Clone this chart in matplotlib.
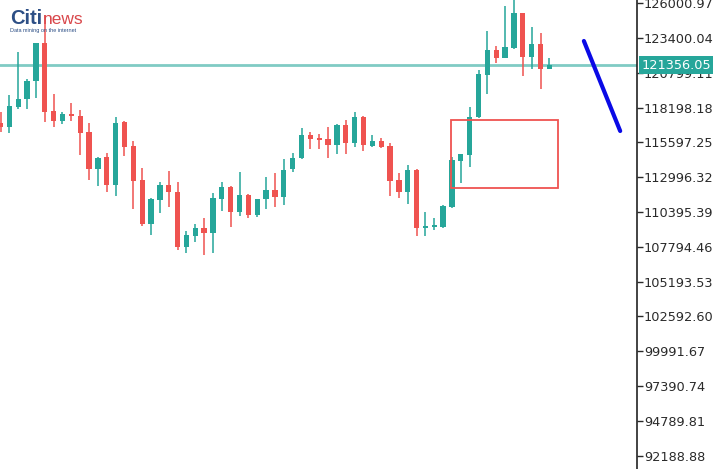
import matplotlib
matplotlib.use("Agg")
import matplotlib.pyplot as plt
from matplotlib.patches import Rectangle

# candle data (open, high, low, close)
opens = [117047, 116748, 118243, 118841, 120186, 123025, 117944, 117197, 117720, 117570,
         116375, 113611, 114507, 112415, 117122, 115329, 112788, 109501, 111294, 112415,
         111892, 107782, 108604, 109202, 108829, 111369, 112265, 110397, 111668, 110173,
         111369, 112041, 111518, 113611, 114432, 116151, 115927, 115852, 115404, 116898,
         115553, 117496, 115329, 115703, 115329, 112788, 111892, 113536, 109202, 109277,
         109277, 110771, 114208, 114657, 117496, 120634, 122502, 121904, 122651, 125267,
         121979, 122950, 121082]
highs = [117869, 119140, 122352, 120335, 123025, 125117, 119214, 117869, 118542, 118019,
         117047, 114507, 114806, 117496, 117197, 115703, 113685, 111444, 112639, 113461,
         112639, 108978, 109501, 109949, 111817, 112639, 112340, 113386, 111742, 111369,
         113013, 113312, 114358, 114806, 116674, 116375, 116226, 116748, 116973, 117272,
         117869, 117570, 116151, 115927, 115553, 113312, 113909, 113611, 110397, 109949,
         110920, 114507, 114731, 118243, 121008, 123922, 122801, 125790, 126400, 125267,
         124220, 123772, 121904]
lows = [116375, 116300, 118094, 118094, 118916, 117122, 116748, 116973, 117197, 114657,
        112788, 112340, 111892, 111593, 114582, 110622, 109352, 108679, 110323, 110771,
        107558, 107334, 108156, 107184, 107334, 110472, 109277, 110099, 109949, 110024,
        110622, 110771, 110920, 113386, 114358, 115105, 115105, 114432, 114731, 114731,
        115255, 114955, 115255, 115180, 111593, 111444, 110995, 108604, 108604, 109053,
        109202, 110696, 112564, 113760, 117421, 119214, 121530, 121904, 122577, 120559,
        121082, 119588, 121082]
closes = [116748, 118318, 118841, 120186, 123025, 117869, 117197, 117720, 117570, 116300,
          113611, 114432, 112415, 117047, 115255, 112714, 109501, 111369, 112415, 111892,
          107782, 108679, 109202, 108829, 111444, 112265, 110397, 111668, 110173, 111369,
          112041, 111518, 113536, 114432, 116151, 115852, 115777, 115404, 116898, 115553,
          117496, 115404, 115703, 115255, 112714, 111892, 113536, 109202, 109352, 109426,
          110846, 114283, 114731, 117496, 120709, 122502, 121904, 122726, 125267, 121979,
          122950, 121082, 121356.05]

last_price = 121356.05
price_ticks = [126000.97, 123400.04, 120799.11, 118198.18, 115597.25, 112996.32, 110395.39,
               107794.46, 105193.53, 102592.60, 99991.67, 97390.74, 94789.81, 92188.88]

# annotations drawn on the chart
box_x = [50.9, 63.0]
box_y = [112191, 117272]
trend_x = [65.9, 70.0]
trend_y = [123175, 116450]

up = '#26a69a'
down = '#ef5350'

fig = plt.figure(figsize=(7.18, 4.69), dpi=100)
ax = fig.add_axes([0, 0, 637 / 718, 1])

for i in range(len(opens)):
    o, h, l, cl = opens[i], highs[i], lows[i], closes[i]
    col = up if cl >= o else down
    ax.plot([i, i], [l, h], color=col, lw=1.3, alpha=0.85, solid_capstyle='butt', zorder=2)
    bottom = min(o, cl)
    height = max(abs(cl - o), 60)
    ax.add_patch(Rectangle((i - 0.3, bottom), 0.6, height, facecolor=col,
                           edgecolor='none', zorder=3))

ax.axhline(last_price, color='#80cbc4', lw=2, zorder=1)

ax.add_patch(Rectangle((box_x[0], box_y[0]), box_x[1] - box_x[0], box_y[1] - box_y[0],
                       fill=False, edgecolor='#ef5350', lw=1.3, zorder=4))
ax.plot(trend_x, trend_y, color='#0a0ae6', lw=3, solid_capstyle='round', zorder=5)

ax.set_xlim(-0.06, 71.9)
ax.set_ylim(91195, 126238)

ax.yaxis.tick_right()
ax.set_yticks(price_ticks)
ax.set_yticklabels(['%.2f' % t for t in price_ticks])
ax.tick_params(axis='y', direction='out', length=4, width=1, pad=1,
               labelsize=9.3, colors='#2a2a2a')
ax.set_xticks([])
for s in ['top', 'left', 'bottom']:
    ax.spines[s].set_visible(False)
ax.spines['right'].set_linewidth(1.2)
ax.spines['right'].set_color('#222222')

ax.annotate('%.2f' % last_price, xy=(1, last_price), xycoords=('axes fraction', 'data'),
            xytext=(3, 0), textcoords='offset points', va='center', ha='left',
            fontsize=9.3, color='white', annotation_clip=False, zorder=6,
            bbox=dict(boxstyle='square,pad=0.2', fc=up, ec='none'))

# logo
fig.text(10 / 718, 1 - 24 / 469, 'Citi', fontsize=14.5, fontweight='bold',
         color='#2d4f86', family='Liberation Sans')
fig.text(43 / 718, 1 - 24 / 469, 'news', fontsize=12.5, color='#d9474b',
         family='Liberation Sans')
fig.text(10 / 718, 1 - 32 / 469, 'Data mining on the internet', fontsize=4,
         color='#2d4f86', family='Liberation Sans')

fig.savefig('out.png', dpi=100)
